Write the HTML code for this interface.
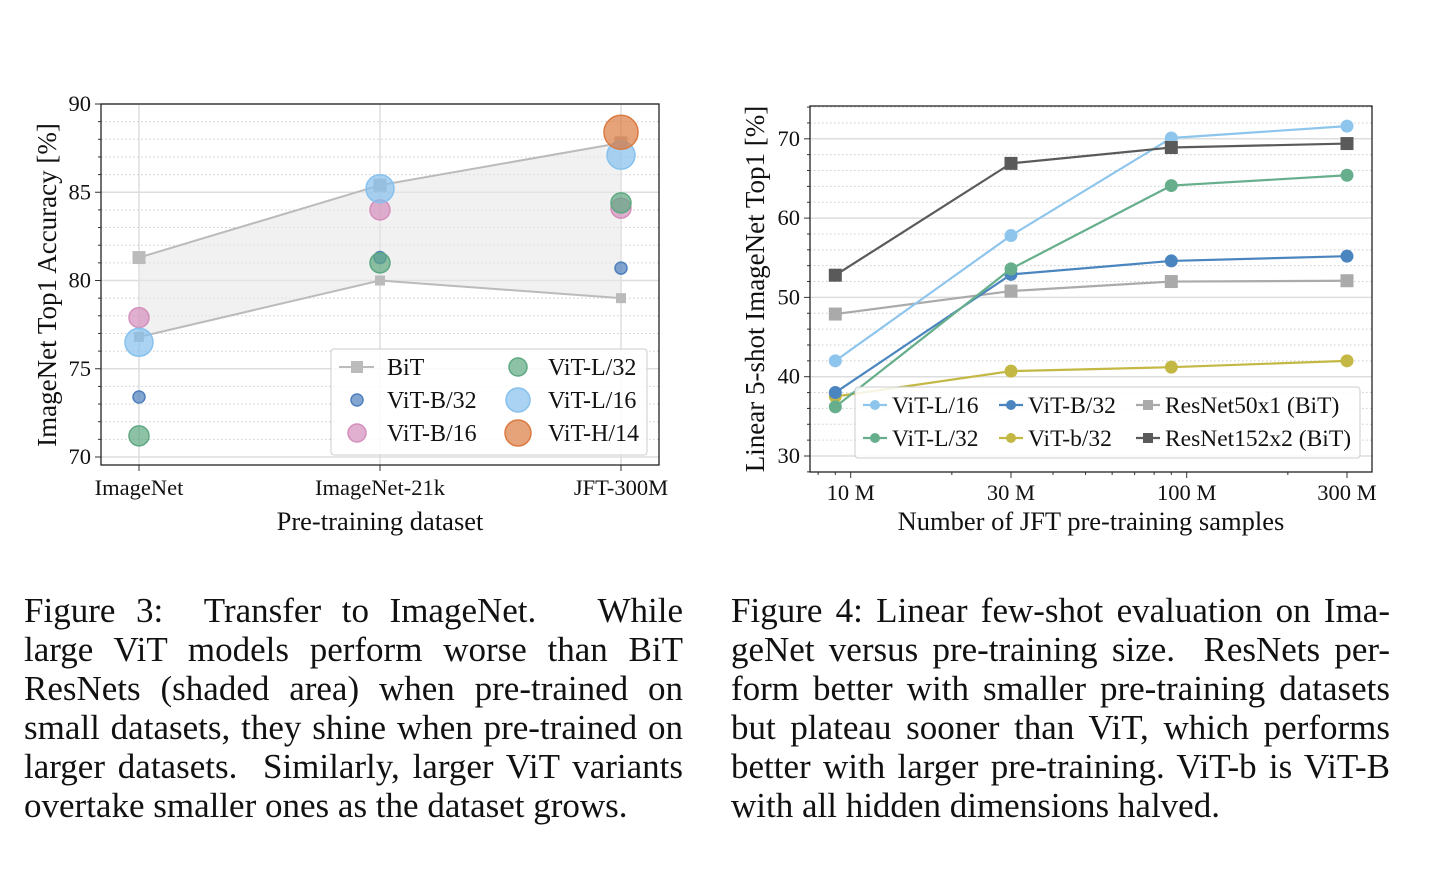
<!DOCTYPE html>
<html><head><meta charset="utf-8"><style>
body{margin:0;background:#fff;width:1434px;height:876px;overflow:hidden;position:relative;font-family:"Liberation Serif",serif}
svg{position:absolute;left:0;top:0}
.cap{position:absolute;font-size:35px;line-height:39px;color:#111}
.cap div{text-align:justify;text-align-last:justify;white-space:nowrap}
.cap div.last{text-align-last:left}
</style></head><body>
<svg id="s" width="1434" height="876" font-family="Liberation Serif, serif"></svg>
<div class="cap" style="left:24px;top:591px;width:659px">
<div>Figure 3:&nbsp; Transfer to ImageNet.&nbsp;&nbsp; While</div>
<div>large ViT models perform worse than BiT</div>
<div>ResNets (shaded area) when pre-trained on</div>
<div>small datasets, they shine when pre-trained on</div>
<div>larger datasets.&nbsp; Similarly, larger ViT variants</div>
<div class="last">overtake smaller ones as the dataset grows.</div>
</div>
<div class="cap" style="left:731px;top:591px;width:659px">
<div>Figure 4: Linear few-shot evaluation on Ima-</div>
<div>geNet versus pre-training size.&nbsp; ResNets per-</div>
<div>form better with smaller pre-training datasets</div>
<div>but plateau sooner than ViT, which performs</div>
<div>better with larger pre-training. ViT-b is ViT-B</div>
<div class="last">with all hidden dimensions halved.</div>
</div>
<script>
// ---- Figure 3 data ----
const f3Categories = ["ImageNet","ImageNet-21k","JFT-300M"];
const f3BitUpper = [81.3, 85.4, 87.8];
const f3BitLower = [76.8, 80.0, 79.0];
const f3B32 = [73.4, 81.3, 80.7];
const f3B16 = [77.9, 84.0, 84.1];
const f3L32 = [71.2, 81.0, 84.4];
const f3L16 = [76.5, 85.2, 87.1];
const f3H14 = [null, null, 88.4];
const f3YTicks = [70,75,80,85,90];
// ---- Figure 4 data ----
const f4Samples = [9, 30, 90, 300];
const f4XTicks = [10, 30, 100, 300];
const f4XTickLabels = ["10 M","30 M","100 M","300 M"];
const f4L16 = [42.0, 57.8, 70.1, 71.6];
const f4L32 = [36.2, 53.6, 64.1, 65.4];
const f4B32 = [38.0, 52.9, 54.6, 55.2];
const f4b32 = [37.5, 40.7, 41.2, 42.0];
const f4R50 = [47.9, 50.8, 52.0, 52.1];
const f4R152 = [52.8, 66.9, 68.9, 69.4];
const f4YTicks = [30,40,50,60,70];

const NS="http://www.w3.org/2000/svg", S=document.getElementById('s');
function mk(t,a,p){const e=document.createElementNS(NS,t);for(const k in a)e.setAttribute(k,a[k]);(p||S).appendChild(e);return e;}
function tx(x,y,s,a,p){const e=mk('text',Object.assign({x:x,y:y,'font-size':22.5,fill:'#111'},a||{}),p);e.textContent=s;return e;}

// ===== Figure 3 =====
const g3=mk('g',{});


const L3={x0:101,x1:659,y0:104,y1:465};
const y3=v=>457-(v-70)*17.65;
const x3=i=>139+i*241;
for(let v=71;v<90;v++){ if(v%5===0)continue; mk('line',{x1:L3.x0,x2:L3.x1,y1:y3(v),y2:y3(v),stroke:'#ccc','stroke-dasharray':'1.5,2.5','stroke-width':1},g3); mk('line',{x1:L3.x0-3,x2:L3.x0,y1:y3(v),y2:y3(v),stroke:'#333'},g3);}
f3YTicks.forEach(v=>{mk('line',{x1:L3.x0,x2:L3.x1,y1:y3(v),y2:y3(v),stroke:'#ddd','stroke-width':1.5},g3);mk('line',{x1:L3.x0-6,x2:L3.x0,y1:y3(v),y2:y3(v),stroke:'#333'},g3);
 const t=tx(L3.x0-10,y3(v)+7,String(v),{'text-anchor':'end'},g3);});
f3Categories.forEach((c,i)=>{mk('line',{x1:x3(i),x2:x3(i),y1:L3.y0,y2:L3.y1,stroke:'#ddd','stroke-width':1.5},g3);mk('line',{x1:x3(i),x2:x3(i),y1:L3.y1,y2:L3.y1+6,stroke:'#333'},g3);
 const t=tx(x3(i),495,c,{'text-anchor':'middle'},g3);});
let poly=f3BitUpper.map((v,i)=>x3(i)+','+y3(v)).concat(f3BitLower.map((v,i)=>[i,v]).reverse().map(([i,v])=>x3(i)+','+y3(v))).join(' ');
const sh=mk('polygon',{points:poly,fill:'#e8e8e8','fill-opacity':0.6},g3);

[f3BitUpper,f3BitLower].forEach((arr,k)=>{
 const l=mk('polyline',{points:arr.map((v,i)=>x3(i)+','+y3(v)).join(' '),fill:'none',stroke:'#bbb','stroke-width':2},g3);
 
 arr.forEach((v,i)=>{const s=k?10:13;const r=mk('rect',{x:x3(i)-s/2,y:y3(v)-s/2,width:s,height:s,fill:'#bbb'},g3);
 });
});
const f3Series=[[f3B32,6,'#4f80bd','vit-b32'],[f3B16,10,'#d48fbc','vit-b16'],[f3L32,10,'#5ea882','vit-l32'],[f3L16,14,'#86c1ee','vit-l16'],[f3H14,17,'#db7a40','vit-h14']];
f3Series.forEach(([arr,r,c,n])=>arr.forEach((v,i)=>{if(v==null)return;
 const e=mk('circle',{cx:x3(i),cy:y3(v),r:r,fill:c,'fill-opacity':0.7,stroke:c,'stroke-width':1.5},g3);
 }));
mk('rect',{x:L3.x0,y:L3.y0,width:L3.x1-L3.x0,height:L3.y1-L3.y0,fill:'none',stroke:'#222','stroke-width':1.3},g3);
const lg3=mk('g',{},g3);
mk('rect',{x:331,y:349,width:316,height:106,rx:3,fill:'#fff','fill-opacity':0.85,stroke:'#ccc'},lg3);
mk('line',{x1:339,x2:374,y1:367,y2:367,stroke:'#bbb','stroke-width':2},lg3);mk('rect',{x:351,y:361,width:12,height:12,fill:'#bbb'},lg3);
tx(387,375,'BiT',{'font-size':24},lg3);
[[357,400,6,'#4f80bd','ViT-B/32',387],[357,433,9,'#d48fbc','ViT-B/16',387],[518,367,9,'#5ea882','ViT-L/32',548],[518,400,12,'#86c1ee','ViT-L/16',548],[518,433,13,'#db7a40','ViT-H/14',548]].forEach(([cx,cy,r,c,s,tx0])=>{
 mk('circle',{cx:cx,cy:cy,r:r,fill:c,'fill-opacity':0.7,stroke:c,'stroke-width':1.5},lg3);
 const t=tx(tx0,cy+8,s,{'font-size':24},lg3);});
let t3=tx(380,530,'Pre-training dataset',{'text-anchor':'middle','font-size':26.5},g3);
t3=tx(0,0,'ImageNet Top1 Accuracy [%]',{'text-anchor':'middle','font-size':27,transform:'translate(56,285) rotate(-90)'},g3);

// ===== Figure 4 =====
const g4=mk('g',{});


const L4={x0:810,x1:1372,y0:106,y1:472};
const y4=v=>456-(v-30)*7.93;
const x4=v=>1011+336*Math.log10(v/30);
for(let v=28;v<=74;v+=2){ if(v%10===0)continue; const y=y4(v); if(y<L4.y0||y>L4.y1)continue;
 mk('line',{x1:L4.x0,x2:L4.x1,y1:y,y2:y,stroke:'#ccc','stroke-dasharray':'1.5,2.5'},g4);mk('line',{x1:L4.x0-3,x2:L4.x0,y1:y,y2:y,stroke:'#333'},g4);}
f4YTicks.forEach(v=>{mk('line',{x1:L4.x0,x2:L4.x1,y1:y4(v),y2:y4(v),stroke:'#ddd','stroke-width':1.5},g4);mk('line',{x1:L4.x0-6,x2:L4.x0,y1:y4(v),y2:y4(v),stroke:'#333'},g4);
 const t=tx(L4.x0-10,y4(v)+7,String(v),{'text-anchor':'end'},g4);});
[8,9,20,40,50,60,70,80,90,200].forEach(v=>{const x=x4(v);if(x<L4.x0)return;mk('line',{x1:x,x2:x,y1:L4.y1,y2:L4.y1+3,stroke:'#333'},g4);});
f4XTicks.forEach((v,i)=>{mk('line',{x1:x4(v),x2:x4(v),y1:L4.y1,y2:L4.y1+6,stroke:'#333'},g4);
 const t=tx(x4(v),500,f4XTickLabels[i],{'text-anchor':'middle'},g4);});
const f4Series=[[f4R50,'#aaaaaa','sq','resnet50x1'],[f4b32,'#c4b845','c','vit-b32-small'],[f4B32,'#4a85bf','c','vit-b32'],[f4L32,'#66ae8c','c','vit-l32'],[f4L16,'#8ec5ec','c','vit-l16'],[f4R152,'#5a5a5a','sq','resnet152x2']];
f4Series.forEach(([arr,c,m,n])=>{
 const l=mk('polyline',{points:arr.map((v,i)=>x4(f4Samples[i])+','+y4(v)).join(' '),fill:'none',stroke:c,'stroke-width':2.2},g4);
 
 arr.forEach((v,i)=>{const x=x4(f4Samples[i]),y=y4(v);let e;
  if(m==='sq')e=mk('rect',{x:x-6.5,y:y-6.5,width:13,height:13,fill:c},g4);else e=mk('circle',{cx:x,cy:y,r:6.5,fill:c},g4);
  });
});
mk('rect',{x:L4.x0,y:L4.y0,width:L4.x1-L4.x0,height:L4.y1-L4.y0,fill:'none',stroke:'#222','stroke-width':1.3},g4);
const lg4=mk('g',{},g4);
mk('rect',{x:855,y:387,width:505,height:71,rx:3,fill:'#fff','fill-opacity':0.85,stroke:'#ccc'},lg4);
[[863,405,'#8ec5ec','c','ViT-L/16'],[999,405,'#4a85bf','c','ViT-B/32'],[1136,405,'#aaaaaa','sq','ResNet50x1 (BiT)'],[863,438,'#66ae8c','c','ViT-L/32'],[999,438,'#c4b845','c','ViT-b/32'],[1136,438,'#5a5a5a','sq','ResNet152x2 (BiT)']].forEach(([x,y,c,m,s])=>{
 mk('line',{x1:x,x2:x+24,y1:y,y2:y,stroke:c,'stroke-width':2.2},lg4);
 if(m==='sq')mk('rect',{x:x+7,y:y-5,width:10,height:10,fill:c},lg4);else mk('circle',{cx:x+12,cy:y,r:5,fill:c},lg4);
 const t=tx(x+29,y+8,s,{'font-size':23.5},lg4);});
let t4=tx(1091,530,'Number of JFT pre-training samples',{'text-anchor':'middle','font-size':26.5},g4);
t4=tx(0,0,'Linear 5-shot ImageNet Top1 [%]',{'text-anchor':'middle','font-size':27,transform:'translate(764,289) rotate(-90)'},g4);
</script>
</body></html>
